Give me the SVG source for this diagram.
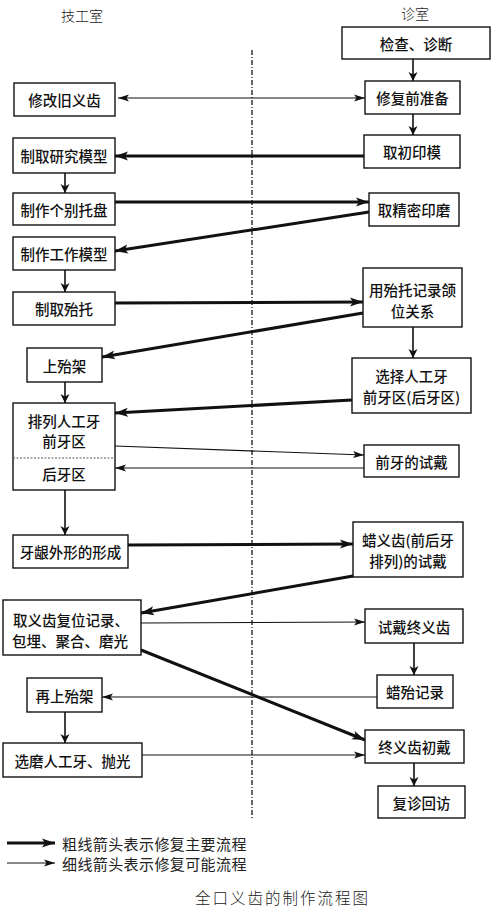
<svg xmlns="http://www.w3.org/2000/svg" width="492" height="907" viewBox="0 0 492 907">
<style>
.box{fill:#fff;stroke:#111;stroke-width:1.4}
.t{font-family:"Noto Sans CJK SC","Noto Sans CJK JP",sans-serif;font-size:14.5px;font-weight:500;fill:#111;text-anchor:middle;dominant-baseline:central}
.h{font-family:"Noto Sans CJK SC","Noto Sans CJK JP",sans-serif;font-size:14px;font-weight:300;fill:#222;text-anchor:middle;dominant-baseline:central}
.lg{font-family:"Noto Sans CJK SC","Noto Sans CJK JP",sans-serif;font-size:15px;font-weight:400;fill:#222;letter-spacing:0.4px;dominant-baseline:central}
.cap{font-family:"Noto Sans CJK SC","Noto Sans CJK JP",sans-serif;font-size:15.5px;font-weight:300;fill:#222;letter-spacing:2px;dominant-baseline:central}
.thick{stroke:#111;stroke-width:3;fill:none;marker-end:url(#ah)}
.thin{stroke:#111;stroke-width:1.2;fill:none;marker-end:url(#at)}
.vt{stroke:#111;stroke-width:1.6;fill:none;marker-end:url(#av)}
</style>
<defs>
<marker id="ah" markerUnits="userSpaceOnUse" markerWidth="14" markerHeight="10" refX="13" refY="5" orient="auto"><path d="M0,0.5 L13,5 L0,9.5 L3,5 Z" fill="#111"/></marker>
<marker id="at" markerUnits="userSpaceOnUse" markerWidth="12" markerHeight="8" refX="11" refY="4" orient="auto"><path d="M0,0.5 L11,4 L0,7.5 L2.5,4 Z" fill="#111"/></marker>
<marker id="ats" markerUnits="userSpaceOnUse" markerWidth="12" markerHeight="8" refX="11" refY="4" orient="auto-start-reverse"><path d="M0,0.5 L11,4 L0,7.5 L2.5,4 Z" fill="#111"/></marker>
<marker id="av" markerUnits="userSpaceOnUse" markerWidth="10" markerHeight="10" refX="5" refY="9" orient="0"><path d="M0.5,0 L5,9 L9.5,0 L5,2.5 Z" fill="#111"/></marker>
</defs>

<g id="headers">
<text class="h" x="82" y="15">技工室</text>
<text class="h" x="415" y="13">诊室</text>
</g>

<line x1="252" y1="50" x2="252" y2="818" stroke="#333" stroke-width="1.5" stroke-dasharray="5,2,1,2"/>

<g id="connectors">
<line x1="118" y1="98" x2="365" y2="98" stroke="#111" stroke-width="1.2" marker-start="url(#ats)" marker-end="url(#at)"/>
<line class="thick" x1="364" y1="156" x2="115" y2="156"/>
<line class="thick" x1="115" y1="202" x2="369" y2="202"/>
<line class="thick" x1="369" y1="212" x2="115" y2="251"/>
<line class="thick" x1="115" y1="303" x2="363" y2="302"/>
<line class="thick" x1="363" y1="313" x2="102" y2="357"/>
<line class="thick" x1="352" y1="400" x2="115" y2="413"/>
<line class="thin" x1="115" y1="446" x2="364" y2="455"/>
<line class="thin" x1="364" y1="468" x2="115" y2="468"/>
<line class="thick" x1="128" y1="545" x2="353" y2="544"/>
<line class="thick" x1="353" y1="576" x2="141" y2="613"/>
<line class="thin" x1="141" y1="623" x2="365" y2="622"/>
<line class="thick" x1="141" y1="650" x2="365" y2="740"/>
<line class="thin" x1="377" y1="697" x2="102" y2="697"/>
<line class="thin" x1="142" y1="755" x2="365" y2="755"/>
<line class="vt" x1="413" y1="59" x2="413" y2="81"/>
<line class="vt" x1="413" y1="114" x2="413" y2="135"/>
<line class="vt" x1="413" y1="327" x2="413" y2="358"/>
<line class="vt" x1="414" y1="643" x2="414" y2="675"/>
<line class="vt" x1="414" y1="763" x2="414" y2="786"/>
<line class="vt" x1="65" y1="173" x2="65" y2="193"/>
<line class="vt" x1="65" y1="270" x2="65" y2="292"/>
<line class="vt" x1="65" y1="382" x2="65" y2="403"/>
<line class="vt" x1="65" y1="490" x2="65" y2="535" stroke-width="2.6"/>
<line class="vt" x1="65" y1="712" x2="65" y2="743"/>
</g>

<g id="n1"><rect class="box" x="14" y="83" width="101" height="33"/><text class="t" x="64.5" y="99.5">修改旧义齿</text></g>
<g id="n2"><rect class="box" x="13" y="138" width="102" height="35"/><text class="t" x="64" y="155.5">制取研究模型</text></g>
<g id="n3"><rect class="box" x="13" y="193" width="102" height="32"/><text class="t" x="64" y="209">制作个别托盘</text></g>
<g id="n4"><rect class="box" x="13" y="237" width="102" height="33"/><text class="t" x="64" y="253.5">制作工作模型</text></g>
<g id="n5"><rect class="box" x="13" y="292" width="102" height="33"/><text class="t" x="64" y="308.5">制取殆托</text></g>
<g id="n6"><rect class="box" x="27" y="348" width="75" height="34"/><text class="t" x="64.5" y="365">上殆架</text></g>
<g id="n7"><rect class="box" x="13" y="403" width="102" height="87"/>
<line x1="13" y1="458" x2="115" y2="458" stroke="#555" stroke-width="1" stroke-dasharray="2,1.5"/>
<text class="t" x="64" y="420">排列人工牙</text><text class="t" x="64" y="440.5">前牙区</text><text class="t" x="64" y="473">后牙区</text></g>
<g id="n8"><rect class="box" x="13" y="535" width="115" height="33"/><text class="t" x="70.5" y="551.5">牙龈外形的形成</text></g>
<g id="n9"><rect class="box" x="3" y="600" width="138" height="55"/><text class="t" x="71" y="619">取义齿复位记录、</text><text class="t" x="70" y="640">包埋、聚合、磨光</text></g>
<g id="n10"><rect class="box" x="27" y="678" width="75" height="34"/><text class="t" x="64.5" y="695">再上殆架</text></g>
<g id="n11"><rect class="box" x="3" y="743" width="139" height="34"/><text class="t" x="72.5" y="760">选磨人工牙、抛光</text></g>

<g id="r1"><rect class="box" x="342" y="27" width="148" height="32"/><text class="t" x="416" y="43">检查、诊断</text></g>
<g id="r2"><rect class="box" x="365" y="81" width="95" height="33"/><text class="t" x="412.5" y="97.5">修复前准备</text></g>
<g id="r3"><rect class="box" x="364" y="135" width="96" height="33"/><text class="t" x="412" y="151.5">取初印模</text></g>
<g id="r4"><rect class="box" x="369" y="193" width="90" height="33"/><text class="t" x="414" y="209.5">取精密印磨</text></g>
<g id="r5"><rect class="box" x="363" y="268" width="99" height="59"/><text class="t" x="412.5" y="289">用殆托记录颌</text><text class="t" x="412.5" y="310">位关系</text></g>
<g id="r6"><rect class="box" x="352" y="358" width="119" height="55"/><text class="t" x="411.5" y="375">选择人工牙</text><text class="t" x="411.5" y="396">前牙区(后牙区)</text></g>
<g id="r7"><rect class="box" x="364" y="445" width="95" height="32"/><text class="t" x="411.5" y="461">前牙的试戴</text></g>
<g id="r8"><rect class="box" x="353" y="522" width="110" height="55"/><text class="t" x="408" y="539">蜡义齿(前后牙</text><text class="t" x="408" y="560">排列)的试戴</text></g>
<g id="r9"><rect class="box" x="365" y="609" width="98" height="34"/><text class="t" x="414" y="626">试戴终义齿</text></g>
<g id="r10"><rect class="box" x="377" y="675" width="76" height="33"/><text class="t" x="415" y="691.5">蜡殆记录</text></g>
<g id="r11"><rect class="box" x="365" y="730" width="99" height="33"/><text class="t" x="414.5" y="746.5">终义齿初戴</text></g>
<g id="r12"><rect class="box" x="378" y="786" width="87" height="32"/><text class="t" x="421.5" y="802">复诊回访</text></g>

<g id="legend">
<line x1="7" y1="843" x2="55" y2="843" stroke="#111" stroke-width="3" marker-end="url(#ah)"/>
<text class="lg" x="62" y="843">粗线箭头表示修复主要流程</text>
<line x1="7" y1="863" x2="55" y2="863" stroke="#111" stroke-width="1.2" marker-end="url(#at)"/>
<text class="lg" x="62" y="863">细线箭头表示修复可能流程</text>
<text class="cap" x="195" y="897">全口义齿的制作流程图</text>
</g>
</svg>
